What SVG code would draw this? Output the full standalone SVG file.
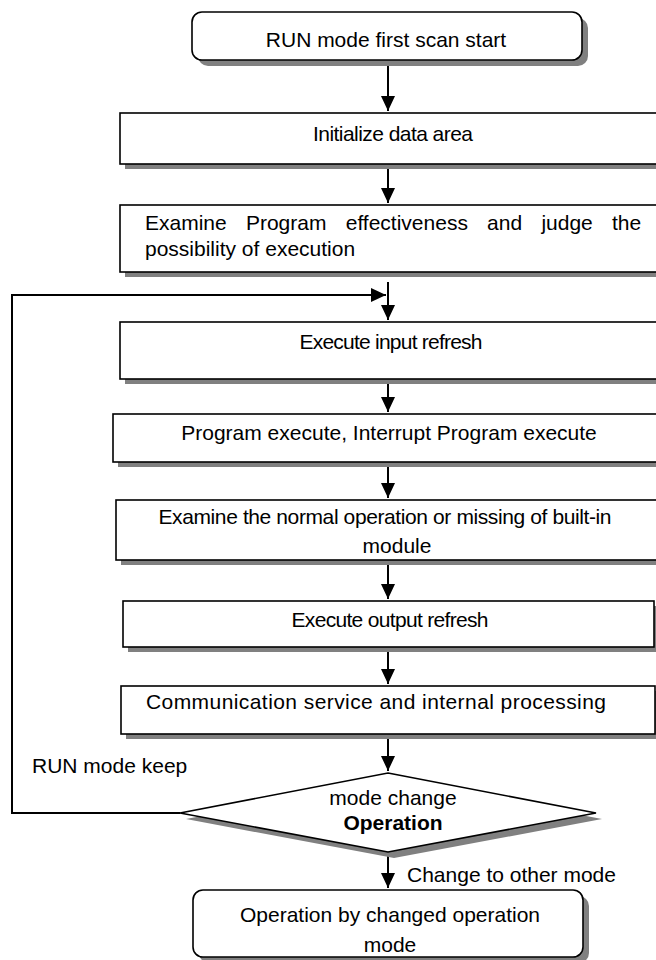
<svg xmlns="http://www.w3.org/2000/svg" width="656" height="960" viewBox="0 0 656 960">
<style>
.box{fill:#fff;stroke:#000;stroke-width:1.6}
.sh{fill:#808080;stroke:none}
.t{font-family:"Liberation Sans",Arial,sans-serif;font-size:21px;fill:#000}
.c{text-anchor:middle}
.b{font-weight:bold}
.ln{stroke:#000;stroke-width:2;fill:none}
</style>
<defs>
<marker id="ah" viewBox="0 0 15 14" refX="15" refY="7" markerWidth="15" markerHeight="14" markerUnits="userSpaceOnUse" orient="auto">
<path d="M0,0 L15,7 L0,14 z" fill="#000"/>
</marker>
</defs>
<rect width="656" height="960" fill="#fff"/>
<g id="connectors">
<line class="ln" x1="388" y1="60" x2="388" y2="111" marker-end="url(#ah)"/>
<line class="ln" x1="388" y1="169" x2="388" y2="203" marker-end="url(#ah)"/>
<polyline class="ln" points="180,813 12,813 12,295 386,295" marker-end="url(#ah)"/>
<line class="ln" x1="388" y1="282" x2="388" y2="320" marker-end="url(#ah)"/>
<line class="ln" x1="388" y1="384" x2="388" y2="412" marker-end="url(#ah)"/>
<line class="ln" x1="388" y1="467" x2="388" y2="498" marker-end="url(#ah)"/>
<line class="ln" x1="388" y1="565" x2="388" y2="599" marker-end="url(#ah)"/>
<line class="ln" x1="388" y1="652" x2="388" y2="684" marker-end="url(#ah)"/>
<line class="ln" x1="388" y1="739" x2="388" y2="771" marker-end="url(#ah)"/>
<line class="ln" x1="388" y1="852" x2="388" y2="888" marker-end="url(#ah)"/>
<text class="t" x="32" y="773">RUN mode keep</text>
<text class="t" x="407" y="882">Change to other mode</text>
</g>
<g id="start">
<rect class="sh" x="198" y="18" width="390" height="48" rx="10"/>
<rect class="box" x="192" y="12" width="390" height="48" rx="10"/>
<text class="t c" x="386" y="47">RUN mode first scan start</text>
</g>
<g id="init">
<rect class="sh" x="125" y="118" width="540" height="51"/>
<rect class="box" x="120" y="113" width="545" height="51"/>
<text class="t c" x="393" y="141" textLength="160">Initialize data area</text>
</g>
<g id="examine">
<rect class="sh" x="125" y="210" width="540" height="67"/>
<rect class="box" x="120" y="205" width="545" height="67"/>
<text class="t" x="145" y="230" word-spacing="13.4">Examine Program effectiveness and judge the</text>
<text class="t" x="145" y="256">possibility of execution</text>
</g>
<g id="input">
<rect class="sh" x="125" y="327" width="540" height="57"/>
<rect class="box" x="120" y="322" width="545" height="57"/>
<text class="t c" x="391" y="349" textLength="183">Execute input refresh</text>
</g>
<g id="program">
<rect class="sh" x="118" y="419" width="545" height="48"/>
<rect class="box" x="113" y="414" width="550" height="48"/>
<text class="t c" x="389" y="440">Program execute, Interrupt Program execute</text>
</g>
<g id="module">
<rect class="sh" x="121" y="505" width="545" height="60"/>
<rect class="box" x="116" y="500" width="550" height="60"/>
<text class="t c" x="385" y="524" textLength="453">Examine the normal operation or missing of built-in</text>
<text class="t c" x="397" y="553">module</text>
</g>
<g id="output">
<rect class="sh" x="128" y="606" width="531" height="46"/>
<rect class="box" x="123" y="601" width="531" height="46"/>
<text class="t c" x="390" y="627" textLength="197">Execute output refresh</text>
</g>
<g id="comm">
<rect class="sh" x="126" y="691" width="534" height="48"/>
<rect class="box" x="121" y="686" width="534" height="48"/>
<text class="t c" x="376" y="709" textLength="460">Communication service and internal processing</text>
</g>
<g id="decision">
<polygon class="sh" points="394,779 602,819 394,858 186,819"/>
<polygon class="box" points="388,773 596,813 388,852 180,813"/>
<text class="t c" x="393" y="805">mode change</text>
<text class="t c b" x="393" y="830">Operation</text>
</g>
<g id="end">
<rect class="sh" x="199" y="896" width="390" height="67" rx="10"/>
<rect class="box" x="193" y="890" width="390" height="67" rx="10"/>
<text class="t c" x="390" y="922">Operation by changed operation</text>
<text class="t c" x="390" y="952">mode</text>
</g>
</svg>
